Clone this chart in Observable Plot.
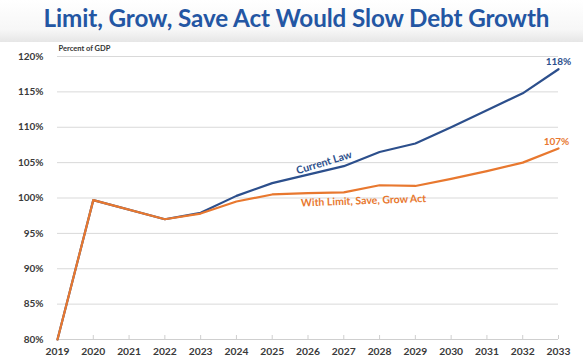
<!DOCTYPE html>
<html>
<head>
<meta charset="utf-8">
<script src="https://cdn.jsdelivr.net/npm/d3@7"></script>
<script src="https://cdn.jsdelivr.net/npm/@observablehq/plot@0.6"></script>
<style>
  html, body { margin: 0; padding: 0; background: #fff; }
  #wrap { width: 583px; height: 364px; overflow: hidden; font-family: Lato, "Open Sans", sans-serif; }
  #title { height: 42px; line-height: 35px; text-align: center; font-size: 24.2px; font-weight: 700; color: #2356a3;
           background: linear-gradient(to bottom, #ffffff 0%, #f7f7f7 70%, #e6e6e6 100%); letter-spacing: -0.1px; padding-left: 10px; box-sizing: border-box; white-space: nowrap; }
  svg { display: block; }
</style>
</head>
<body>
<div id="wrap">
  <div id="title">Limit, Grow, Save Act Would Slow Debt Growth</div>
  <div id="chart"></div>
</div>
<script>
const years = [2019, 2020, 2022, 2023, 2024, 2025, 2026, 2027, 2028, 2029, 2030, 2031, 2032, 2033];
const currentLaw = [80, 99.7, 97.0, 97.9, 100.3, 102.1, 103.3, 104.5, 106.5, 107.7, 110.0, 112.4, 114.8, 118.2];
const withAct   = [80, 99.7, 97.0, 97.8, 99.5, 100.5, 100.7, 100.8, 101.8, 101.7, 102.7, 103.8, 105.0, 107.0];
const xTicks = [2019, 2020, 2021, 2022, 2023, 2024, 2025, 2026, 2027, 2028, 2029, 2030, 2031, 2032, 2033];
const yTicks = [80, 85, 90, 95, 100, 105, 110, 115, 120];
const seriesNames = ["Current Law", "With Limit, Save, Grow Act"];
const endLabels = ["118%", "107%"];

const blue = "#2c4f8c";
const orange = "#e8782f";

const rows = [];
years.forEach((yr, i) => {
  rows.push({year: yr, value: currentLaw[i], series: seriesNames[0]});
  rows.push({year: yr, value: withAct[i], series: seriesNames[1]});
});
const blueRows = rows.filter(d => d.series === seriesNames[0]);
const orangeRows = rows.filter(d => d.series === seriesNames[1]);
const last = years.length - 1;

const chart = Plot.plot({
  width: 583,
  height: 322,
  marginTop: 14,
  marginBottom: 25,
  marginLeft: 57,
  marginRight: 25,
  style: {fontFamily: "Lato, 'Open Sans', sans-serif", fontSize: "10px", fontWeight: 700, color: "#3a3a3a", background: "transparent"},
  x: {domain: [2019, 2033]},
  y: {domain: [80, 120]},
  marks: [
    Plot.gridY(yTicks.filter(d => d > 80), {stroke: "#d9d9d9", strokeOpacity: 1, strokeWidth: 1}),
    Plot.ruleY([80], {stroke: "#cfcfcf", strokeWidth: 1}),
    Plot.axisY({ticks: yTicks, tickFormat: d => d + "%", tickSize: 0, tickPadding: 14, label: null, fontSize: 10, fill: "#3a3a3a"}),
    Plot.axisX({ticks: xTicks, tickFormat: d => String(d), tickSize: -4, tickPadding: 12, label: null, fontSize: 10.3, stroke: "#cfcfcf", fill: "#3a3a3a"}),
    Plot.line(blueRows, {x: "year", y: "value", stroke: blue, strokeWidth: 2.2}),
    Plot.line(orangeRows, {x: "year", y: "value", stroke: orange, strokeWidth: 2.2}),
    Plot.text([endLabels[0]], {x: years[last], y: currentLaw[last], text: d => d, dy: -7, fill: blue, fontSize: 10, fontWeight: 700}),
    Plot.text([endLabels[1]], {x: years[last], y: withAct[last], text: d => d, dy: -7, dx: -2, fill: orange, fontSize: 10, fontWeight: 700}),
    Plot.text([seriesNames[0]], {x: 2026.45, y: 105.0, text: d => d, rotate: -17, fill: blue, fontSize: 10.5, fontWeight: 700}),
    Plot.text([seriesNames[1]], {x: 2027.55, y: 99.6, text: d => d, rotate: -2, fill: orange, fontSize: 10.5, fontWeight: 700}),
    Plot.text(["Percent of GDP"], {frameAnchor: "top-left", dx: 1, dy: -11, text: d => d, textAnchor: "start", fontSize: 7.5, fontWeight: 700, fill: "#333"})
  ]
});
document.getElementById("chart").appendChild(chart);
</script>
</body>
</html>
